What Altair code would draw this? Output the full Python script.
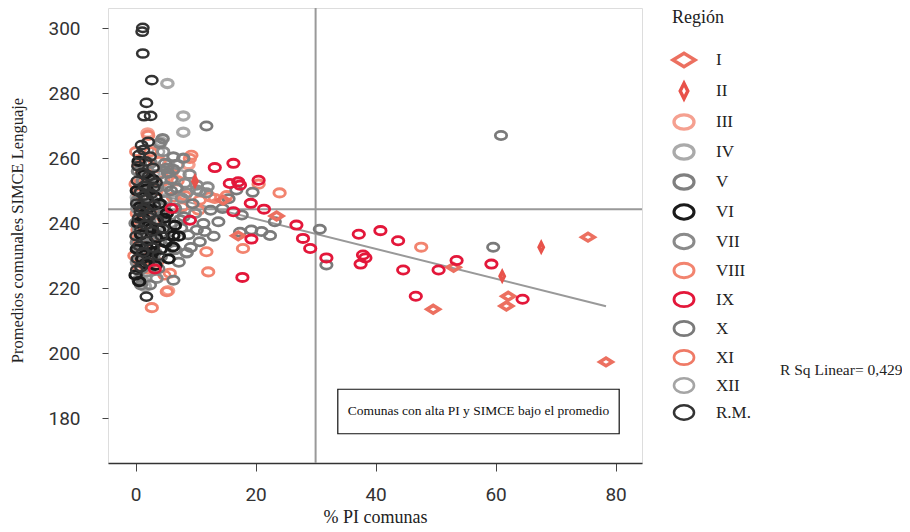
import altair as alt
import pandas as pd

# ---------------- data ----------------
regions = ["I", "II", "III", "IV", "V", "VI", "VII", "VIII", "IX", "X", "XI", "XII", "R.M."]
colors = ["#EC7060", "#E8524A", "#F5A090", "#AAAAAA", "#7F7F7F", "#1A1A1A", "#8A8A8A",
          "#F2846F", "#E3173A", "#7A7A7A", "#EF7A66", "#A5A5A5", "#333333"]
widths = [3.5, 2.5, 2, 2, 3.5, 2.5, 2.5, 2.5, 4.5, 3.5, 2.5, 2, 2.5]

ELL = "M-1,0A1,0.72,0,1,1,1,0A1,0.72,0,1,1,-1,0Z"
DIA_WIDE = "M-1.1,0L0,-0.68L1.1,0L0,0.68Z"
DIA_TALL = "M-0.38,0L0,-0.76L0.38,0L0,0.76Z"
shapes = [DIA_WIDE, DIA_TALL] + [ELL] * 11

pts_I = [(14.6, 247.1), (23.5, 242.2), (17.1, 236.1), (53.0, 226.4), (49.6, 213.5),
         (62.1, 217.5), (61.8, 214.5), (75.4, 235.7), (78.4, 197.3)]
pts_II = [(67.6, 232.6), (61.1, 223.7), (9.9, 252.9)]
pts_III = [(1.8, 246), (0.5, 250), (2.5, 238), (0.9, 241), (5.4, 219.2), (3.0, 233),
           (1.5, 235.5), (8.8, 258), (2.3, 226), (2.0, 267.7)]
pts_IV = [(5.3, 283), (7.95, 273), (7.95, 268), (4.2, 265), (1.3, 222), (1.55, 220.6),
          (0.6, 244), (2.0, 241), (3.2, 246), (0.2, 248), (1.0, 233), (2.4, 250),
          (4.5, 237), (0.5, 229), (3.0, 255)]
pts_V = [(0.4, 256), (1.2, 253), (2.5, 258.5), (0.9, 250), (3.9, 255), (0.3, 247),
         (1.8, 245), (4.3, 245.6), (4.6, 242.6), (0.7, 242), (2.1, 239), (3.2, 237),
         (0.2, 234), (1.4, 231), (2.6, 233), (5.4, 255.4), (6.3, 256.5), (4.9, 258.4),
         (5.2, 256.9), (7.95, 260), (6.3, 260.4), (4.0, 264.6), (4.5, 266), (6.0, 253.4),
         (5.2, 251.3), (6.8, 250.8), (6.55, 244.6), (7.4, 241.1), (6.55, 231.9),
         (8.5, 230.9), (1.0, 226), (3.0, 229), (0.5, 222.5), (2.2, 248), (3.6, 251),
         (1.5, 236), (0.0, 240)]
pts_VI = [(0.5, 259), (1.5, 255), (2.8, 253.5), (0.2, 250), (1.8, 250.5), (3.3, 248),
          (0.7, 245), (4.0, 246), (2.0, 244.5), (5.2, 243), (0.4, 240), (1.3, 241.5),
          (6.55, 239.3), (6.3, 236.2), (6.2, 232.7), (2.9, 231.2), (1.8, 232.7), (5.0, 234),
          (3.4, 235.5), (0.9, 236.5), (4.2, 232), (2.5, 229.5), (0.2, 232), (1.6, 227.5),
          (3.3, 227), (0.0, 224), (5.5, 229), (4.8, 241.5), (2.6, 238.5), (1.1, 229),
          (0.6, 222), (3.9, 238), (7.2, 236)]
pts_VII = [(0.8, 259), (2.9, 252), (1.6, 248.5), (0.3, 244.5), (3.7, 243), (2.3, 240.5),
           (0.6, 238), (4.1, 234.5), (1.2, 235), (5.8, 240), (8.2, 252.3), (8.5, 249.3),
           (7.7, 247.7), (10.7, 249.8), (11.8, 249.3), (9.9, 243), (12.0, 251.2),
           (10.2, 250.2), (10.2, 251.7), (3.3, 231), (1.9, 225), (0.2, 228), (5.0, 247),
           (2.0, 256), (4.6, 262), (7.0, 258), (9.0, 255), (0.7, 232), (3.5, 223), (2.7, 247)]
pts_VIII = [(2.1, 267), (9.3, 260.9), (9.05, 259.9), (0.1, 262), (0.5, 258),
            (1.0, 255), (0.0, 252), (0.6, 249), (1.2, 246), (0.2, 243), (0.8, 240),
            (1.5, 237.5), (0.3, 235), (0.9, 232.5), (-0.2, 230), (0.4, 229), (1.6, 228.5),
            (2.2, 230), (0.5, 226.5), (1.9, 226), (2.7, 214), (5.2, 218.9), (5.7, 224.6),
            (11.8, 231.2), (12.1, 225), (17.9, 232.2), (20.5, 252), (24.0, 249.3),
            (12.4, 248.1), (13.2, 247.6), (10.7, 247.1), (7.7, 245), (8.2, 248.5),
            (15.2, 248.5), (3.2, 257), (2.5, 262), (4.0, 259), (3.5, 250), (2.7, 244),
            (3.0, 240.5), (2.3, 235), (4.7, 253), (1.4, 258.5), (7.0, 253), (10.5, 244),
            (47.6, 232.6), (1.0, 243.5), (3.6, 228), (6.0, 255.5)]
pts_IX = [(3.2, 225.9), (6.0, 244.5), (9.05, 240.9), (13.2, 257.1), (16.3, 258.4),
          (15.7, 252.2), (17.1, 252.7), (17.4, 251.7), (20.5, 253.2), (19.2, 246.1),
          (21.4, 244.3), (16.3, 243.5), (19.3, 235.1), (17.8, 223.3), (26.8, 239.4),
          (27.9, 235.3), (29.1, 232.2), (31.8, 229.3), (37.2, 236.6), (40.8, 237.7),
          (43.75, 234.6), (37.9, 230.2), (37.5, 227.4), (44.6, 225.6), (50.5, 225.6),
          (53.5, 228.5), (59.3, 227.4), (46.7, 217.5), (64.5, 216.6), (38.3, 229.3)]
pts_X = [(11.8, 269.9), (16.8, 250.2), (17.7, 242.5), (13.8, 240.4), (11.3, 239.9),
         (10.2, 237.9), (11.55, 237.4), (8.8, 236.4), (10.7, 234.3), (17.4, 237.2),
         (19.3, 237.9), (21.0, 237.4), (22.4, 236.2), (30.7, 238.1), (31.8, 227.1),
         (59.6, 232.6), (60.9, 267), (23.2, 240.4), (6.3, 222.4), (14.5, 244.5),
         (8.0, 242), (9.5, 246), (12.5, 244), (5.5, 235), (7.6, 238.5), (3.8, 226),
         (2.4, 221), (4.2, 229.5), (13.0, 236), (15.5, 247.5), (9.2, 232.5), (7.2, 228),
         (3.0, 244), (5.9, 250), (19.5, 249.5), (0.9, 221), (2.0, 253), (1.0, 246)]
pts_XI = [(0.3, 238), (1.1, 227.5), (2.0, 231), (0.7, 252), (4.8, 224), (1.4, 244),
          (6.2, 248), (2.9, 236), (0.4, 234), (3.8, 243)]
pts_XII = [(1.5, 239), (0.8, 252), (2.8, 243), (5.5, 258), (7.4, 255), (3.8, 262),
           (0.3, 237), (4.4, 250), (9.0, 241), (1.9, 230), (6.5, 247)]
pts_RM = [(1.2, 300.1), (1.1, 298.9), (1.2, 292.2), (2.7, 284), (1.8, 277), (1.4, 272.9),
          (2.5, 273), (1.0, 264), (2.1, 265), (1.3, 262.5), (0.6, 261), (2.4, 260.5),
          (1.7, 259), (0.4, 257.5), (2.9, 257), (1.1, 255.5), (2.2, 254.5), (0.3, 253),
          (3.4, 252.5), (1.5, 251.5), (0.8, 249.5), (2.6, 249), (1.9, 247.5), (0.2, 246),
          (3.1, 245.5), (1.2, 244.5), (2.4, 243), (0.5, 241.5), (3.6, 241), (1.6, 239.5),
          (0.9, 238), (2.8, 237.5), (0.1, 236), (4.3, 236), (1.9, 234.5), (0.6, 233),
          (2.9, 232.5), (1.2, 231), (3.8, 230), (0.3, 229), (2.1, 228), (0.9, 226.5),
          (1.8, 217.4), (0.2, 225.6), (4.6, 238.3), (3.5, 240.9), (2.2, 242), (1.4, 248.5),
          (3.0, 251), (0.8, 243.5)]

draw_order = ["XII", "IV", "III", "XI", "VIII", "VII", "V", "X", "VI", "R.M.", "II", "I", "IX"]
points_by_region = {"I": pts_I, "II": pts_II, "III": pts_III, "IV": pts_IV, "V": pts_V,
                    "VI": pts_VI, "VII": pts_VII, "VIII": pts_VIII, "IX": pts_IX,
                    "X": pts_X, "XI": pts_XI, "XII": pts_XII, "R.M.": pts_RM}

# reference lines and fit
mean_pi = [30]
mean_simce = [244.3]
fit_x = [0.4, 78.4]
fit_intercept = 250.5
fit_slope = -0.46
r2_label = ["R Sq Linear= 0,429"]
box_x = [33.7, 80.6]
box_y = [175.2, 188.9]
box_label = ["Comunas con alta PI y SIMCE bajo el promedio"]

# ---------------- tables ----------------
rows = []
for k, reg in enumerate(draw_order):
    for (x, y) in points_by_region[reg]:
        rows.append({"pi": x, "simce": y, "Región": reg, "ord": k})
df = pd.DataFrame(rows)
fit_df = pd.DataFrame({"pi": fit_x, "simce": [fit_intercept + fit_slope * v for v in fit_x]})
box_df = pd.DataFrame({"x": [box_x[0]], "x2": [box_x[1]], "y": [box_y[0]], "y2": [box_y[1]],
                       "label": box_label, "xc": [sum(box_x) / 2], "yc": [sum(box_y) / 2]})

SERIF = "Liberation Serif, DejaVu Serif, serif"
SANS = "Roboto, Liberation Sans, sans-serif"

xscale = alt.Scale(domain=[-4.6, 84.4], nice=False, zero=False)
yscale = alt.Scale(domain=[166.2, 306.2], nice=False, zero=False)

xaxis = alt.Axis(values=[0, 20, 40, 60, 80], title="% PI comunas", grid=False,
                 tickSize=8, labelPadding=14, domainColor="#333333", domainWidth=1.5,
                 tickColor="#444444", labelFont=SANS, labelFontSize=19, labelColor="#333333",
                 titleFont=SERIF, titleFontSize=18, titleFontWeight="normal",
                 titleColor="#222222", titleY=54, titleBaseline="middle")
yaxis = alt.Axis(values=[180, 200, 220, 240, 260, 280, 300],
                 title="Promedios comunales SIMCE Lenguaje", grid=False, domain=False,
                 tickSize=6, labelPadding=22, tickColor="#444444", labelFont=SANS,
                 labelFontSize=19, labelColor="#333333", titleFont=SERIF, titleFontSize=16.5,
                 titleFontWeight="normal", titleColor="#222222", titleX=-91, titleY=222,
                 titleBaseline="middle")

leg = alt.Legend(title="Región", orient="none", legendX=564, legendY=1,
                 titleFont=SERIF, titleFontSize=18, titleFontWeight="normal",
                 titleColor="#222222", titlePadding=21, labelFont=SERIF, labelFontSize=17,
                 labelColor="#222222", labelOffset=20, symbolSize=400, rowPadding=2,
                 padding=0)

points = alt.Chart(df).mark_point(filled=False, size=130, opacity=1).encode(
    x=alt.X("pi:Q", scale=xscale, axis=xaxis),
    y=alt.Y("simce:Q", scale=yscale, axis=yaxis),
    color=alt.Color("Región:N", scale=alt.Scale(domain=regions, range=colors), legend=leg),
    shape=alt.Shape("Región:N", scale=alt.Scale(domain=regions, range=shapes), legend=leg),
    strokeWidth=alt.StrokeWidth("Región:N", scale=alt.Scale(domain=regions, range=widths),
                                legend=leg),
    order=alt.Order("ord:Q"),
)

vline = alt.Chart(pd.DataFrame({"pi": mean_pi})).mark_rule(color="#999999", strokeWidth=2).encode(
    x=alt.X("pi:Q", scale=xscale))
hline = alt.Chart(pd.DataFrame({"simce": mean_simce})).mark_rule(color="#999999", strokeWidth=2).encode(
    y=alt.Y("simce:Q", scale=yscale))
fit = alt.Chart(fit_df).mark_line(color="#999999", strokeWidth=2).encode(
    x=alt.X("pi:Q", scale=xscale), y=alt.Y("simce:Q", scale=yscale))

box = alt.Chart(box_df).mark_rect(fill="white", stroke="#111111", strokeWidth=1.2).encode(
    x=alt.X("x:Q", scale=xscale), x2="x2:Q", y=alt.Y("y:Q", scale=yscale), y2="y2:Q")
box_text = alt.Chart(box_df).mark_text(font=SERIF, fontSize=13.5, color="#111111").encode(
    x=alt.X("xc:Q", scale=xscale), y=alt.Y("yc:Q", scale=yscale), text="label:N")

r2 = alt.Chart(pd.DataFrame({"t": r2_label})).mark_text(
    font=SERIF, fontSize=15.5, color="#222222", align="left", baseline="middle").encode(
    x=alt.value(672), y=alt.value(362), text="t:N")

chart = alt.layer(vline, hline, fit, points, box, box_text, r2).properties(
    width=534, height=455,
    autosize=alt.AutoSizeParams(type="none"),
    padding={"left": 100, "top": 0, "right": 260, "bottom": 66},
).configure_view(stroke="#8C8C8C", strokeWidth=1.5).configure(background="white")

chart.save("out.html", embed_options={"renderer": "svg", "actions": False})
